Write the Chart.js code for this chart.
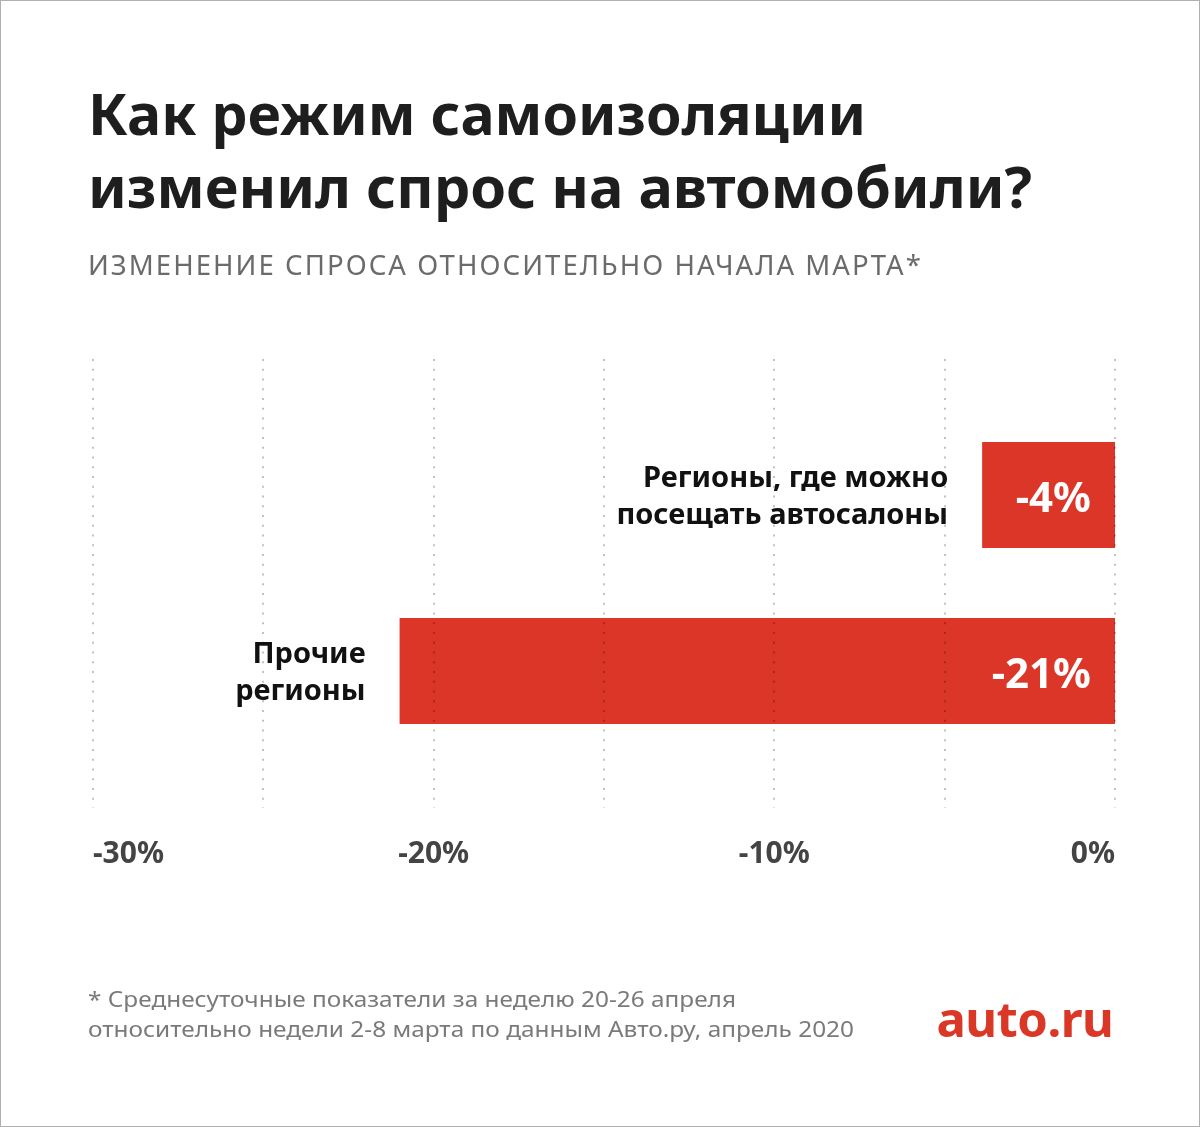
<!DOCTYPE html>
<html lang="ru">
<head>
<meta charset="utf-8">
<script src="https://cdn.jsdelivr.net/npm/chart.js@4.4.1/dist/chart.umd.min.js"></script>
<style>
  html, body { margin: 0; padding: 0; background: #ffffff; }
  #page { position: relative; width: 1200px; height: 1127px; overflow: hidden; background: #fff; font-family: "Noto Sans", sans-serif; }
  #frame { position: absolute; left: 0; top: 0; width: 1198px; height: 1125px; border: 1px solid #b0b0b0; pointer-events: none; }
  canvas { position: absolute; left: 0; top: 0; }
  .t { position: absolute; white-space: nowrap; display: inline-block; transform-origin: left center; }
  .title { left: 88px; font-size: 58px; line-height: 73px; font-weight: 700; color: #1f1e1e; }
  .sub { left: 88px; top: 251px; font-size: 27px; line-height: 27px; font-weight: 400; color: #6b6b6b; letter-spacing: 2px; }
  .note { left: 88px; font-size: 21px; line-height: 30px; font-weight: 400; color: #7a7a7a; }
  .logo { font-size: 48px; line-height: 48px; font-weight: 700; color: #db3727; transform-origin: right center; letter-spacing: -0.5px; }
</style>
</head>
<body>
<div id="page">
  <canvas id="c" width="1200" height="1127"></canvas>
  <span class="t title" style="top:76px" data-w="778">Как режим самоизоляции</span>
  <span class="t title" style="top:149px" data-w="944">изменил спрос на автомобили?</span>
  <span class="t sub" data-w="835">ИЗМЕНЕНИЕ СПРОСА ОТНОСИТЕЛЬНО НАЧАЛА МАРТА*</span>
  <span class="t note" style="top:984px" data-w="648">* Среднесуточные показатели за неделю 20-26 апреля</span>
  <span class="t note" style="top:1014px" data-w="766">относительно недели 2-8 марта по данным Авто.ру, апрель 2020</span>
  <span class="t logo" style="right:87px; top:995px" data-w="177">auto.ru</span>
  <div id="frame"></div>
</div>
<script>
// ---- data ----
const categories = [
  ['Регионы, где можно', 'посещать автосалоны'],
  ['Прочие', 'регионы']
];
const values = [-3.9, -21];
const valueLabels = ['-4%', '-21%'];
const axisMin = -30;
const axisMax = 0;
const tickStep = 10;
const gridStep = 5;

// ---- style ----
const RED = '#db3627';
const FONT = '"Noto Sans", sans-serif';

const overlay = {
  id: 'overlay',
  afterDatasetsDraw(chart) {
    const { ctx, chartArea, scales } = chart;
    const xs = scales.x;
    // dotted grid lines (drawn above the bars, as in the reference)
    ctx.save();
    ctx.strokeStyle = 'rgba(0,0,0,0.24)';
    ctx.lineWidth = 2;
    ctx.setLineDash([2, 7.75]);
    for (let v = axisMin; v <= axisMax + 1e-9; v += gridStep) {
      const px = Math.round(xs.getPixelForValue(v));
      ctx.beginPath();
      ctx.moveTo(px, chartArea.top - 48);
      ctx.lineTo(px, chartArea.bottom + 49);
      ctx.stroke();
    }
    ctx.restore();

    const meta = chart.getDatasetMeta(0);
    meta.data.forEach((bar, i) => {
      const left = Math.min(bar.x, bar.base);
      const right = Math.max(bar.x, bar.base);
      const cy = bar.y;
      ctx.save();
      // category label, right aligned to the left of the bar
      ctx.fillStyle = '#111111';
      ctx.font = '700 29px ' + FONT;
      ctx.textAlign = 'right';
      ctx.textBaseline = 'alphabetic';
      const lines = categories[i];
      ctx.fillText(lines[0], left - 34, cy - 8);
      ctx.fillText(lines[1], left - 34, cy + 29);
      // value label inside the bar
      ctx.fillStyle = '#ffffff';
      ctx.font = '700 42px ' + FONT;
      ctx.fillText(valueLabels[i], right - 24, cy + 17);
      ctx.restore();
    });
  }
};

new Chart(document.getElementById('c'), {
  type: 'bar',
  data: {
    labels: categories,
    datasets: [{
      data: values,
      backgroundColor: RED,
      borderWidth: 0,
      categoryPercentage: 1,
      barPercentage: 0.602
    }]
  },
  options: {
    indexAxis: 'y',
    responsive: false,
    animation: false,
    devicePixelRatio: 1,
    layout: { padding: { left: 93, right: 85, top: 407, bottom: 258 } },
    plugins: { legend: { display: false }, tooltip: { enabled: false } },
    scales: {
      x: {
        type: 'linear',
        min: axisMin,
        max: axisMax,
        afterFit(scale) { scale.height = 110; },
        grid: { display: false, drawTicks: false },
        border: { display: false },
        ticks: {
          stepSize: tickStep,
          align: 'inner',
          padding: 77,
          color: '#444444',
          font: { family: FONT, size: 30, weight: '700' },
          callback: v => v + '%'
        }
      },
      y: { display: false }
    }
  },
  plugins: [overlay]
});

function fit() {
  document.querySelectorAll('.t[data-w]').forEach(el => {
    el.style.transform = 'none';
    const w = el.getBoundingClientRect().width;
    const target = parseFloat(el.dataset.w);
    let s = target / w;
    s = Math.max(0.82, Math.min(1.18, s));
    el.style.transform = 'scaleX(' + s.toFixed(4) + ')';
  });
}
fit();
if (document.fonts && document.fonts.ready) { document.fonts.ready.then(fit); }
</script>
</body>
</html>
